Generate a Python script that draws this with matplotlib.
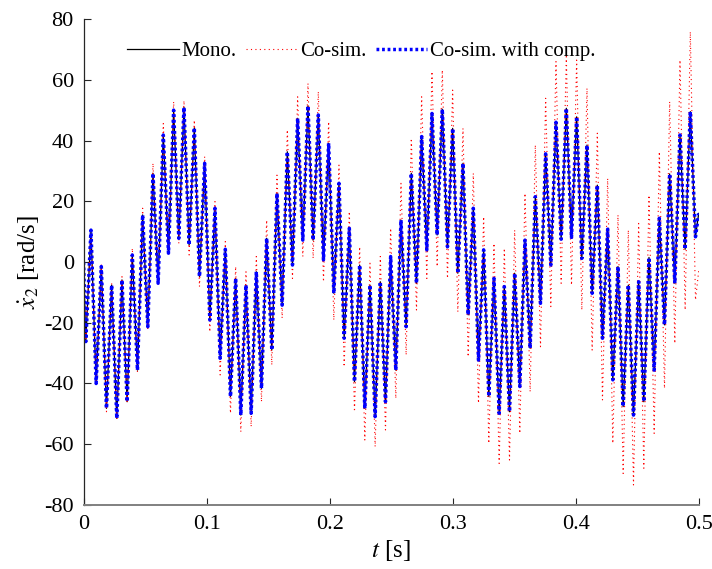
import numpy as np
import matplotlib
matplotlib.use("Agg")
import matplotlib.pyplot as plt

# ---------------- data ----------------
# high-frequency oscillation: successive peaks and the trough following each peak
period = 0.0084          # s, spacing of successive peaks
t_first_peak = 0.006     # s
t_start, t_end = 0.0, 0.5

comp_start = 0.0
comp_first_trough = -26.2
comp_end = 16.0
comp_peaks = [10.5, -1.5, -7.6, -5.9, 2.3, 15.5, 29.2, 41.8, 50.0, 50.9, 44.2, 32.5, 17.7, 4.2, -5.4,
              -7.6, -3.2, 7.8, 22.6, 36.3, 47.3, 51.4, 48.4, 39.1, 25.9, 11.1, -1.0, -7.6, -6.5,
              1.8, 13.8, 29.2, 41.3, 48.9, 50.3, 44.0, 32.5, 17.7, 4.0, -5.4, -8.1, -3.7, 7.2, 21.5,
              35.6, 46.0, 50.6, 47.8, 38.5, 25.3, 10.8, -1.5, -7.6, -6.5, 1.5, 14.4, 29.0, 41.8, 49.5]
comp_troughs = [-40.0, -48.2, -51.5, -46.0, -35.6, -21.3, -7.0, 2.9, 7.8, 5.6, -4.8, -19.1, -31.7, -44.3, -50.4,
                -49.8, -41.6, -29.0, -14.2, -1.0, 7.2, 7.2, 0.7, -10.3, -25.1, -39.4, -48.2, -50.9, -46.0,
                -35.6, -21.3, -7.0, 4.0, 8.9, 5.0, -3.7, -17.4, -32.3, -44.3, -49.8, -49.3, -41.0, -28.4, -13.6,
                -1.0, 7.5, 8.1, 1.2, -10.3, -25.1, -38.8, -47.6, -50.4, -46.0, -35.6, -20.7, -7.0, 4.2, 8.3]

# monolithic reference is indistinguishable from the compensated co-simulation
mono_start = comp_start
mono_first_trough = comp_first_trough
mono_end = comp_end
mono_peaks = list(comp_peaks)
mono_troughs = list(comp_troughs)

cosim_start = 0.0
cosim_first_trough = -26.5
cosim_end = -3.0
cosim_peaks = [11.0, -1.0, -7.0, -4.8, 4.5, 17.7, 32.5, 45.6, 52.8, 53.1, 46.7, 34.7, 19.9, 6.7, -1.5,
               -3.2, 1.8, 13.8, 28.6, 43.5, 54.4, 58.8, 56.1, 46.2, 31.9, 16.6, 5.0, -0.4, 1.8,
               11.1, 25.9, 40.7, 54.4, 62.7, 63.2, 56.6, 44.0, 29.2, 14.9, 6.1, 4.5, 10.5, 22.6, 38.5,
               53.9, 66.0, 67.6, 66.5, 57.2, 42.4, 27.5, 15.5, 10.5, 12.7, 22.0, 36.3, 52.8, 66.5, 75.8]
cosim_troughs = [-40.5, -49.3, -52.0, -46.5, -36.2, -21.9, -7.6, 2.3, 6.1, 2.3, -8.1, -23.0, -37.2, -49.8, -55.9,
                 -54.2, -46.0, -33.9, -18.5, -5.4, 1.8, 1.2, -6.5, -19.1, -34.5, -49.3, -58.6, -60.8, -55.3,
                 -44.9, -30.6, -15.8, -5.4, -1.5, -5.4, -16.4, -31.2, -46.5, -59.7, -66.3, -65.2, -56.4, -42.7, -27.9,
                 -14.7, -7.0, -7.6, -15.8, -29.0, -45.4, -59.7, -69.6, -73.4, -67.9, -56.4, -41.6, -26.8, -15.8, -12.5]

labels = ["Mono.", "Co-sim.", "Co-sim. with comp."]
xticks = [0, 0.1, 0.2, 0.3, 0.4, 0.5]
xticklabels = ["0", "0.1", "0.2", "0.3", "0.4", "0.5"]
yticks = [-80, -60, -40, -20, 0, 20, 40, 60, 80]


def series(start, first_trough, peaks, troughs, end):
    n = len(peaks)
    tp = t_first_peak + period * np.arange(n)
    tt = tp + period / 2
    t = [t_start, t_first_peak - period / 2]
    y = [start, first_trough]
    for a, b, c, d in zip(tp, peaks, tt, troughs):
        t += [a, c]
        y += [b, d]
    t.append(t_end)
    y.append(end)
    return np.array(t), np.array(y)


t_m, y_m = series(mono_start, mono_first_trough, mono_peaks, mono_troughs, mono_end)
t_c, y_c = series(cosim_start, cosim_first_trough, cosim_peaks, cosim_troughs, cosim_end)
t_k, y_k = series(comp_start, comp_first_trough, comp_peaks, comp_troughs, comp_end)

# ---------------- style ----------------
plt.rcParams["font.family"] = ["Liberation Serif", "DejaVu Serif"]
plt.rcParams["mathtext.fontset"] = "stix"
plt.rcParams["axes.unicode_minus"] = False

fig = plt.figure(figsize=(7.12, 5.69), dpi=100)
ax = fig.add_axes([0.1174, 0.1125, 0.8639, 0.8541])

ax.plot(t_m, y_m, color="black", lw=0.9, label=labels[0])
ax.plot(t_c, y_c, color="red", lw=0.8, linestyle=(0, (1, 3)), label=labels[1])
ax.plot(t_k, y_k, color="blue", lw=2.5, linestyle=(0, (0.8, 0.8)), label=labels[2])

ax.set_xlim(0, 0.5)
ax.set_ylim(-80, 80)
ax.set_xticks(xticks)
ax.set_xticklabels(xticklabels)
ax.set_yticks(yticks)
ax.tick_params(direction="in", length=5, width=0.8, labelsize=16, colors="#262626")
for lab in ax.get_xticklabels() + ax.get_yticklabels():
    lab.set_color("black")
ax.tick_params(axis="x", pad=7)
ax.tick_params(axis="y", pad=7)

for s in ["top", "right"]:
    ax.spines[s].set_visible(False)
ax.spines["left"].set_color("#262626")
ax.spines["left"].set_linewidth(0.9)
ax.spines["bottom"].set_color("#808080")
ax.spines["bottom"].set_linewidth(1.4)

ax.set_xlabel(r"$t$ [s]", fontsize=18, labelpad=3)
ax.set_ylabel(r"$\dot{x}_2$ [rad/s]", fontsize=18, labelpad=2)

leg = ax.legend(loc="center", bbox_to_anchor=(0.452, 0.933), ncol=3, frameon=False,
                fontsize=15, handlelength=2.45, handletextpad=0.15, columnspacing=0.45)

fig.savefig("out.png", dpi=100)
